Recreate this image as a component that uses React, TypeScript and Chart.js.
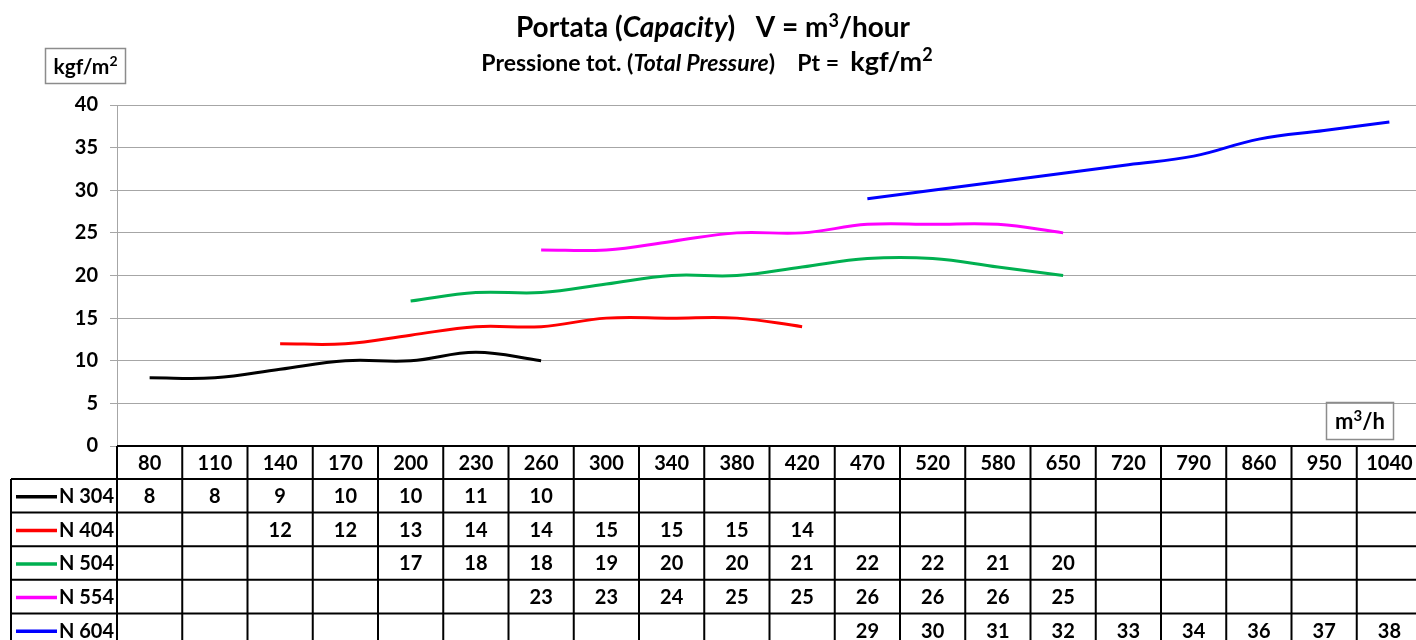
import { useEffect, useRef } from "react";
import { Chart, registerables } from "chart.js";

Chart.register(...registerables);

const categories = ["80", "110", "140", "170", "200", "230", "260", "300", "340", "380", "420", "470", "520", "580", "650", "720", "790", "860", "950", "1040"];
const n304 = [8, 8, 9, 10, 10, 11, 10, null, null, null, null, null, null, null, null, null, null, null, null, null];
const n404 = [null, null, 12, 12, 13, 14, 14, 15, 15, 15, 14, null, null, null, null, null, null, null, null, null];
const n504 = [null, null, null, null, 17, 18, 18, 19, 20, 20, 21, 22, 22, 21, 20, null, null, null, null, null];
const n554 = [null, null, null, null, null, null, 23, 23, 24, 25, 25, 26, 26, 26, 25, null, null, null, null, null];
const n604 = [null, null, null, null, null, null, null, null, null, null, null, 29, 30, 31, 32, 33, 34, 36, 37, 38];
const seriesNames = ["N 304", "N 404", "N 504", "N 554", "N 604"];
const seriesColors = ["#000000", "#FF0000", "#00B050", "#FF00FF", "#0000FF"];
const seriesValues = [n304, n404, n504, n554, n604];

const FONT = "Lato, 'Open Sans', sans-serif";

type Seg = { t: string; i?: boolean; sup?: boolean; s?: number };

function drawRich(ctx: CanvasRenderingContext2D, segs: Seg[], cx: number, y: number, size: number) {
  const sizeOf = (s: Seg) => (s.s ? s.s : size);
  const fontOf = (s: Seg) => `${s.i ? "italic " : ""}bold ${s.sup ? Math.round(sizeOf(s) * 0.66) : sizeOf(s)}px ${FONT}`;
  let total = 0;
  const widths = segs.map((s) => {
    ctx.font = fontOf(s);
    const w = ctx.measureText(s.t).width;
    total += w;
    return w;
  });
  let x = cx - total / 2;
  ctx.textAlign = "left";
  ctx.textBaseline = "alphabetic";
  ctx.fillStyle = "#000";
  segs.forEach((s, k) => {
    ctx.font = fontOf(s);
    ctx.fillText(s.t, x, s.sup ? y - sizeOf(s) * 0.36 : y);
    x += widths[k];
  });
}

const tablePlugin = {
  id: "tablePlugin",
  afterDraw(chart: any) {
    const ctx: CanvasRenderingContext2D = chart.ctx;
    const area = chart.chartArea;
    const xs = chart.scales.x;
    const n = categories.length;
    const colW = (area.right - area.left) / n;
    const top = area.bottom;
    const headerBottom = top + 33;
    const rowH = 33.6;
    const legendLeft = 11;
    ctx.save();

    // titles
    drawRich(ctx, [{ t: "Portata (" }, { t: "Capacity", i: true }, { t: ")   V = m" }, { t: "3", sup: true }, { t: "/hour" }], 713, 37, 28);
    drawRich(
      ctx,
      [{ t: "Pressione tot. (" }, { t: "Total Pressure", i: true }, { t: ")    Pt =  " }, { t: "kgf/m", s: 27 }, { t: "2", sup: true, s: 27 }],
      707,
      71,
      23
    );

    // y unit box
    ctx.strokeStyle = "#8c8c8c";
    ctx.lineWidth = 1.5;
    ctx.strokeRect(45.5, 48.5, 80, 35);
    drawRich(ctx, [{ t: "kgf/m" }, { t: "2", sup: true }], 85.5, 74, 21);
    // x unit box
    ctx.strokeRect(1326.5, 402.5, 67, 37);
    drawRich(ctx, [{ t: "m" }, { t: "3", sup: true }, { t: "/h" }], 1360, 429, 22);

    // table lines
    ctx.strokeStyle = "#000";
    ctx.lineWidth = 2;
    ctx.beginPath();
    ctx.moveTo(area.left, top);
    ctx.lineTo(area.right + 2, top);
    for (let r = 0; r < seriesNames.length; r++) {
      const y = headerBottom + r * rowH;
      ctx.moveTo(legendLeft, y);
      ctx.lineTo(area.right + 2, y);
    }
    ctx.moveTo(legendLeft, headerBottom);
    ctx.lineTo(legendLeft, 660);
    for (let c = 0; c <= n; c++) {
      const x = area.left + c * colW;
      ctx.moveTo(x, top);
      ctx.lineTo(x, 660);
    }
    ctx.stroke();

    // header labels
    ctx.fillStyle = "#000";
    ctx.font = `bold 20px ${FONT}`;
    ctx.textAlign = "center";
    ctx.textBaseline = "middle";
    categories.forEach((c, i) => {
      ctx.fillText(c, xs.getPixelForValue(i), (top + headerBottom) / 2 + 1);
    });

    // rows
    seriesNames.forEach((name, r) => {
      const cy = headerBottom + r * rowH + rowH / 2 + 1;
      ctx.strokeStyle = seriesColors[r];
      ctx.lineWidth = 3.5;
      ctx.beginPath();
      ctx.moveTo(16, cy);
      ctx.lineTo(57, cy);
      ctx.stroke();
      ctx.fillStyle = "#000";
      ctx.font = `bold 20px ${FONT}`;
      ctx.textAlign = "left";
      ctx.fillText(name, 59, cy);
      ctx.textAlign = "center";
      seriesValues[r].forEach((v, i) => {
        if (v !== null && v !== undefined) ctx.fillText(String(v), xs.getPixelForValue(i), cy);
      });
    });
    ctx.restore();
  },
};

export default function App() {
  const ref = useRef<HTMLCanvasElement | null>(null);
  useEffect(() => {
    if (!ref.current) return;
    const chart = new Chart(ref.current, {
      type: "line",
      data: {
        labels: categories,
        datasets: seriesValues.map((vals, k) => ({
          label: seriesNames[k],
          data: vals,
          borderColor: seriesColors[k],
          backgroundColor: seriesColors[k],
          borderWidth: 3,
          pointRadius: 0,
          tension: 0.4,
          spanGaps: false,
          fill: false,
        })),
      },
      options: {
        responsive: false,
        animation: false,
        layout: { padding: { left: 0, right: 2, top: 105, bottom: 640 - 446 } },
        plugins: {
          legend: { display: false },
          title: { display: false },
          tooltip: { enabled: false },
        },
        scales: {
          x: {
            type: "category",
            display: false,
            offset: true,
            grid: { display: false },
          },
          y: {
            min: 0,
            max: 40,
            afterFit: (s: any) => {
              s.width = 117;
            },
            ticks: {
              stepSize: 5,
              color: "#000",
              font: { family: FONT, weight: "bold", size: 20 },
              padding: 12,
            },
            grid: {
              color: "#a6a6a6",
              lineWidth: 1,
              tickLength: 7,
              drawTicks: true,
            },
            border: { display: true, color: "#a6a6a6", width: 1 },
          },
        },
      },
      plugins: [tablePlugin],
    });
    return () => chart.destroy();
  }, []);
  return (
    <div style={{ position: "fixed", left: 0, top: 0, width: 1416, height: 640, overflow: "hidden", background: "#fff" }}>
      <canvas ref={ref} width={1424} height={640} style={{ display: "block" }} />
    </div>
  );
}
